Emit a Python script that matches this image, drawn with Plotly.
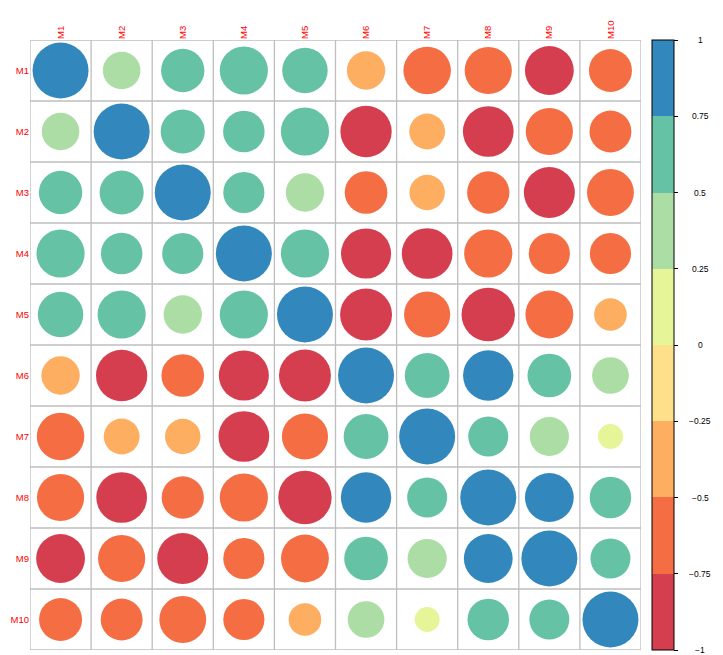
import numpy as np
import plotly.graph_objects as go

# Variable names
labels = ["M1", "M2", "M3", "M4", "M5", "M6", "M7", "M8", "M9", "M10"]

# Correlation matrix (symmetric)
corr = [
    [1.00, 0.45, 0.60, 0.74, 0.66, -0.47, -0.72, -0.71, -0.76, -0.59],
    [0.45, 1.00, 0.62, 0.55, 0.74, -0.84, -0.41, -0.82, -0.71, -0.56],
    [0.60, 0.62, 1.00, 0.54, 0.47, -0.58, -0.40, -0.57, -0.83, -0.70],
    [0.74, 0.55, 0.54, 1.00, 0.74, -0.80, -0.82, -0.74, -0.54, -0.54],
    [0.66, 0.74, 0.47, 0.74, 1.00, -0.86, -0.68, -0.91, -0.73, -0.34],
    [-0.47, -0.84, -0.58, -0.80, -0.86, 1.00, 0.64, 0.81, 0.61, 0.43],
    [-0.72, -0.41, -0.40, -0.82, -0.68, 0.64, 1.00, 0.51, 0.49, 0.20],
    [-0.71, -0.82, -0.57, -0.74, -0.91, 0.81, 0.51, 1.00, 0.76, 0.55],
    [-0.76, -0.71, -0.83, -0.54, -0.73, 0.61, 0.49, 0.76, 1.00, 0.51],
    [-0.59, -0.56, -0.70, -0.54, -0.34, 0.43, 0.20, 0.55, 0.51, 1.00],
]

# Colour bar ticks
bar_ticks = [1, 0.75, 0.5, 0.25, 0, -0.25, -0.5, -0.75, -1]
bar_tick_text = ["1", "0.75", "0.5", "0.25", "0", "\u22120.25", "\u22120.5", "\u22120.75", "\u22121"]

# 8-class Spectral palette, low to high
palette = ["#D53E4F", "#F46D43", "#FDAE61", "#FEE08B",
           "#E6F598", "#ABDDA4", "#66C2A5", "#3288BD"]

n = len(labels)
colorscale = []
for i, c in enumerate(palette):
    colorscale.append([i / len(palette), c])
    colorscale.append([(i + 1) / len(palette), c])

M = np.array(corr)
rows, cols = np.meshgrid(np.arange(n), np.arange(n), indexing="ij")
xs = (cols + 1).ravel()
ys = (rows + 1).ravel()
vals = M.ravel()

max_diam = 56  # circle diameter in px for |r| = 1
sizes = max_diam * np.sqrt(np.abs(vals))

fig = go.Figure()
fig.add_trace(go.Scatter(
    x=xs, y=ys, mode="markers",
    marker=dict(
        size=sizes, sizemode="diameter", opacity=1,
        color=vals, colorscale=colorscale, cmin=-1, cmax=1,
        line=dict(width=0),
        showscale=True,
        colorbar=dict(
            x=1.018, xanchor="left", xpad=0,
            y=0.5, yanchor="middle", ypad=0,
            len=1, lenmode="fraction", thickness=22,
            outlinecolor="black", outlinewidth=1,
            ticks="outside", ticklen=4, tickcolor="black",
            tickvals=bar_ticks, showticklabels=False,
        ),
    ),
    hovertemplate="%{x}, %{y}: %{marker.color:.2f}<extra></extra>",
    showlegend=False,
))

# Cell grid
grid_color = "#BEBEBE"
for k in range(n + 1):
    pos = k + 0.5
    fig.add_shape(type="line", x0=pos, x1=pos, y0=0.5, y1=n + 0.5,
                  xref="x", yref="y", line=dict(color=grid_color, width=1.3), layer="below")
    fig.add_shape(type="line", x0=0.5, x1=n + 0.5, y0=pos, y1=pos,
                  xref="x", yref="y", line=dict(color=grid_color, width=1.3), layer="below")

# Colour bar labels, centred beside the bar
for v, t in zip(bar_ticks, bar_tick_text):
    fig.add_annotation(x=1.0966, y=(v + 1) / 2, xref="paper", yref="paper",
                       text=t, showarrow=False, xanchor="center", yanchor="middle",
                       font=dict(size=8.5, color="black", family="Liberation Sans, Arial"))

label_font = dict(size=9.5, color="#FF0000", family="Liberation Sans, Arial")
fig.update_xaxes(
    range=[0.5, n + 0.5], side="top", tickmode="array",
    tickvals=list(range(1, n + 1)), ticktext=labels, tickangle=-90,
    tickfont=label_font, showgrid=False, zeroline=False, showline=False,
    ticks="", fixedrange=True,
)
fig.update_yaxes(
    range=[n + 0.5, 0.5], tickmode="array",
    tickvals=list(range(1, n + 1)), ticktext=labels,
    tickfont=label_font, showgrid=False, zeroline=False, showline=False,
    ticks="", fixedrange=True,
)

fig.update_layout(
    width=723, height=655,
    margin=dict(l=30, r=82, t=40, b=5),
    plot_bgcolor="white", paper_bgcolor="white",
)

fig.write_html("out.html")
